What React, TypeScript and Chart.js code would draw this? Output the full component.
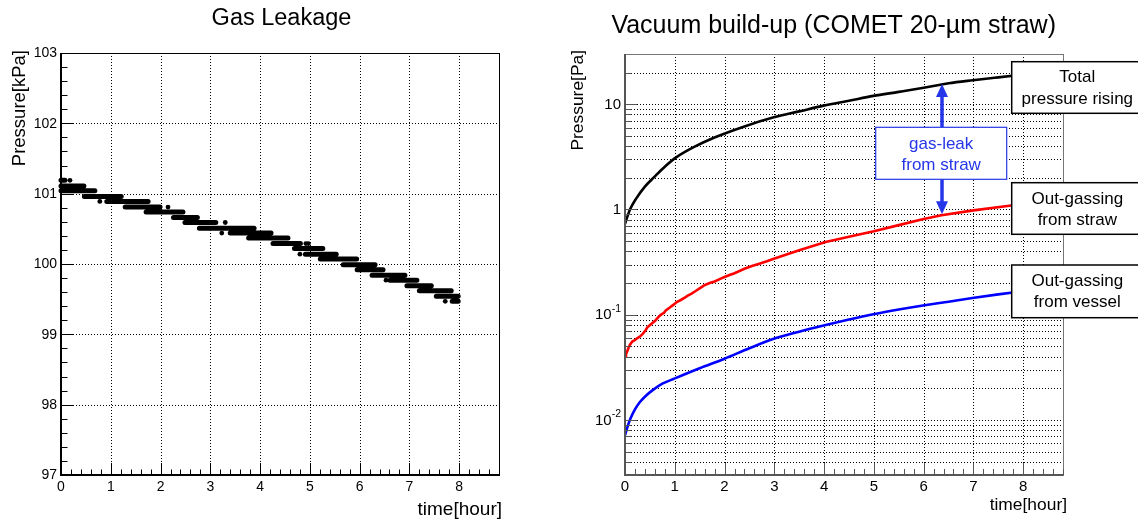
import React, { useEffect, useRef } from 'react';
import { Chart, registerables } from 'chart.js';
Chart.register(...registerables);

const FONT = '"Liberation Sans", Arial, Helvetica, sans-serif';

// ---------------- Left panel: Gas Leakage ----------------
const leakLevels = [101.19, 101.11, 101.04, 100.96, 100.89, 100.81, 100.74, 100.66, 100.59, 100.51, 100.44, 100.37, 100.29, 100.22, 100.14, 100.07, 99.99, 99.92, 99.84, 99.77, 99.69, 99.62, 99.54, 99.47];
const leakStart = [0.0, 0.0, 0.0, 0.47, 0.92, 1.29, 1.71, 2.26, 2.49, 2.78, 3.40, 3.77, 4.26, 4.69, 4.91, 5.21, 5.67, 5.95, 6.25, 6.61, 6.95, 7.20, 7.54, 7.86];
const leakEnd = [0.08, 0.46, 0.68, 1.21, 1.75, 1.99, 2.45, 2.74, 3.11, 3.88, 4.22, 4.56, 4.81, 5.26, 5.53, 5.94, 6.31, 6.47, 6.91, 7.15, 7.44, 7.84, 7.98, 7.98];
const leakDotT = [0.18, 0.78, 2.15, 3.30, 3.23, 4.92, 4.97, 4.80, 7.72, 6.53];
const leakDotP = [101.19, 100.89, 100.81, 100.59, 100.44, 100.29, 100.29, 100.14, 99.47, 99.77];
const leakXLabels = [0, 1, 2, 3, 4, 5, 6, 7, 8];
const leakYLabels = [97, 98, 99, 100, 101, 102, 103];

// ---------------- Right panel: Vacuum build-up ----------------
const totalT = [0, 0.05, 0.1, 0.22, 0.4, 0.59, 0.8, 1.035, 1.4, 1.81, 2.4, 2.99, 3.5, 3.99, 4.5, 4.99, 5.5, 6.03, 6.5, 6.99, 7.5, 8.0];
const totalP = [0.73, 0.86, 1.0, 1.26, 1.65, 2.04, 2.55, 3.14, 3.95, 4.85, 6.15, 7.5, 8.55, 9.7, 10.8, 12.0, 13.1, 14.4, 15.8, 16.9, 18.0, 19.1];
const strawT = [0, 0.02, 0.06, 0.1, 0.15, 0.19, 0.25, 0.3, 0.36, 0.42, 0.45, 0.52, 0.6, 0.67, 0.72, 0.78, 0.82, 0.9, 0.97, 1.04, 1.12, 1.2, 1.26, 1.33, 1.42, 1.5, 1.59, 1.7, 1.8, 1.9, 2.0, 2.1, 2.2, 2.3, 2.4, 2.55, 2.7, 2.85, 2.99, 3.5, 4.03, 4.5, 5.0, 5.5, 6.0, 6.36, 7.0, 7.76, 8.0];
const strawP = [0.040, 0.042, 0.047, 0.052, 0.056, 0.057, 0.060, 0.062, 0.066, 0.072, 0.076, 0.081, 0.087, 0.095, 0.100, 0.104, 0.110, 0.117, 0.124, 0.132, 0.138, 0.145, 0.152, 0.158, 0.168, 0.178, 0.190, 0.200, 0.207, 0.218, 0.228, 0.238, 0.248, 0.260, 0.273, 0.290, 0.305, 0.322, 0.340, 0.410, 0.490, 0.550, 0.620, 0.710, 0.810, 0.880, 0.980, 1.090, 1.120];
const vesselT = [0, 0.05, 0.11, 0.2, 0.3, 0.42, 0.55, 0.75, 0.99, 1.5, 2.0, 2.5, 2.99, 3.5, 3.99, 4.5, 4.99, 5.5, 6.02, 6.5, 6.98, 7.5, 8.0];
const vesselP = [0.00714, 0.0086, 0.0103, 0.0126, 0.0148, 0.017, 0.0191, 0.0221, 0.0247, 0.031, 0.0382, 0.048, 0.059, 0.069, 0.079, 0.09, 0.101, 0.112, 0.123, 0.133, 0.144, 0.156, 0.167];
const vacXLabels = [0, 1, 2, 3, 4, 5, 6, 7, 8];
const vacDecades = [0.001, 0.01, 0.1, 1, 10];
const vacYLabelValues = [0.01, 0.1, 1, 10];
const vacYLabelBase = ['10', '10', '1', '10'];
const vacYLabelSup = ['-2', '-1', '', ''];

function hLine(ctx: CanvasRenderingContext2D, x1: number, x2: number, y: number) {
  ctx.beginPath(); ctx.moveTo(x1, y); ctx.lineTo(x2, y); ctx.stroke();
}
function vLine(ctx: CanvasRenderingContext2D, x: number, y1: number, y2: number) {
  ctx.beginPath(); ctx.moveTo(x, y1); ctx.lineTo(x, y2); ctx.stroke();
}
const crisp = (v: number) => Math.round(v) + 0.5;

function minorSteps(from: number, to: number, step: number) {
  const out: number[] = [];
  const n = Math.round((to - from) / step);
  for (let i = 0; i <= n; i++) out.push(+(from + i * step).toFixed(4));
  return out;
}

function logGridValues(min: number, max: number) {
  const out: number[] = [];
  for (const d of vacDecades) for (let m = 1; m <= 9; m++) {
    const v = +(d * m).toPrecision(3);
    if (v > min * 1.0001 && v < max * 0.9999) out.push(v);
  }
  return out;
}

const leftDecor = {
  id: 'leftDecor',
  beforeDatasetsDraw(chart: any) {
    const { ctx, chartArea: a, scales: { x, y } } = chart;
    ctx.save();
    ctx.strokeStyle = '#000'; ctx.lineWidth = 1; ctx.setLineDash([1, 2]);
    for (const v of leakXLabels) if (v > 0) vLine(ctx, crisp(x.getPixelForValue(v)), a.top, a.bottom);
    for (const v of leakYLabels) if (v > 97 && v < 103) hLine(ctx, a.left, a.right, crisp(y.getPixelForValue(v)));
    ctx.restore();
  },
  afterDatasetsDraw(chart: any) {
    const { ctx, chartArea: a, scales: { x, y } } = chart;
    ctx.save();
    ctx.setLineDash([]);
    ctx.strokeStyle = '#000'; ctx.lineWidth = 1;
    ctx.strokeRect(crisp(a.left), crisp(a.top), Math.round(a.right - a.left), Math.round(a.bottom - a.top));
    ctx.lineWidth = 2;
    vLine(ctx, Math.round(a.left), a.top, a.bottom + 1);
    hLine(ctx, a.left - 1, a.right, Math.round(a.bottom));
    ctx.lineWidth = 1;
    for (const v of minorSteps(0, 8.8, 0.2)) {
      const px = crisp(x.getPixelForValue(v));
      const major = Math.abs(v - Math.round(v)) < 1e-6;
      vLine(ctx, px, a.bottom, a.bottom - (major ? 12 : 5.5));
    }
    for (const v of minorSteps(97, 103, 0.2)) {
      const py = crisp(y.getPixelForValue(v));
      const major = Math.abs(v - Math.round(v)) < 1e-6;
      hLine(ctx, a.left, a.left + (major ? 12 : 6.5), py);
    }
    ctx.fillStyle = '#000';
    ctx.font = `14px ${FONT}`;
    ctx.textAlign = 'center'; ctx.textBaseline = 'middle';
    for (const v of leakXLabels) ctx.fillText(String(v), x.getPixelForValue(v), 487);
    ctx.textAlign = 'right';
    for (const v of leakYLabels) ctx.fillText(String(v), a.left - 4, y.getPixelForValue(v) + 0.5);
    ctx.font = `19px ${FONT}`;
    ctx.textAlign = 'right'; ctx.textBaseline = 'middle';
    ctx.fillText('time[hour]', 502, 510);
    ctx.save();
    ctx.translate(20, 50); ctx.rotate(-Math.PI / 2);
    ctx.font = `18.5px ${FONT}`;
    ctx.textAlign = 'right'; ctx.textBaseline = 'middle';
    ctx.fillText('Pressure[kPa]', 0, 0);
    ctx.restore();
    ctx.font = `23.5px ${FONT}`;
    ctx.textAlign = 'center'; ctx.textBaseline = 'alphabetic';
    ctx.fillText('Gas Leakage', 281.5, 25);
    ctx.restore();
  },
};

const BLUE = '#2536e8';
const RIGHT_OFF = 563;

function textBox(ctx: CanvasRenderingContext2D, x1: number, y1: number, x2: number, y2: number, lines: string[], cx: number, lineYs: number[], color: string, lw: number) {
  ctx.fillStyle = '#fff';
  ctx.fillRect(x1, y1, x2 - x1, y2 - y1);
  ctx.strokeStyle = color; ctx.lineWidth = lw;
  ctx.strokeRect(x1, y1, x2 - x1, y2 - y1);
  ctx.fillStyle = color;
  ctx.font = `17px ${FONT}`;
  ctx.textAlign = 'center'; ctx.textBaseline = 'middle';
  lines.forEach((s, i) => ctx.fillText(s, cx, lineYs[i]));
}

const rightDecor = {
  id: 'rightDecor',
  beforeDatasetsDraw(chart: any) {
    const { ctx, chartArea: a, scales: { x, y } } = chart;
    ctx.save();
    ctx.strokeStyle = '#000'; ctx.lineWidth = 1; ctx.setLineDash([1, 2]);
    for (const v of vacXLabels) if (v > 0) vLine(ctx, crisp(x.getPixelForValue(v)), a.top, a.bottom);
    for (const v of logGridValues(0.003, 30)) hLine(ctx, a.left, a.right, crisp(y.getPixelForValue(v)));
    ctx.restore();
  },
  afterDatasetsDraw(chart: any) {
    const { ctx, chartArea: a, scales: { x, y } } = chart;
    ctx.save();
    ctx.setLineDash([]);
    ctx.strokeStyle = '#777'; ctx.lineWidth = 1;
    ctx.strokeRect(crisp(a.left), crisp(a.top), Math.round(a.right - a.left), Math.round(a.bottom - a.top));
    ctx.strokeStyle = '#555'; ctx.lineWidth = 2;
    vLine(ctx, Math.round(a.left), a.top, a.bottom + 1);
    hLine(ctx, a.left - 1, a.right, Math.round(a.bottom));
    ctx.lineWidth = 1;
    for (const v of minorSteps(0, 8.8, 0.2)) {
      const px = crisp(x.getPixelForValue(v));
      const major = Math.abs(v - Math.round(v)) < 1e-6;
      vLine(ctx, px, a.bottom, a.bottom - (major ? 12 : 6));
    }
    for (const v of logGridValues(0.003, 30)) {
      const py = crisp(y.getPixelForValue(v));
      const major = vacDecades.some((d) => Math.abs(d - v) / v < 1e-6);
      hLine(ctx, a.left, a.left + (major ? 12 : 6.5), py);
    }
    ctx.fillStyle = '#000';
    ctx.font = `15px ${FONT}`;
    ctx.textAlign = 'center'; ctx.textBaseline = 'middle';
    for (const v of vacXLabels) ctx.fillText(String(v), x.getPixelForValue(v), 487);
    vacYLabelValues.forEach((v, i) => {
      const py = y.getPixelForValue(v);
      const right = a.left - 4;
      let supW = 0;
      if (vacYLabelSup[i]) {
        ctx.font = `10.5px ${FONT}`;
        supW = ctx.measureText(vacYLabelSup[i]).width;
        ctx.textAlign = 'left';
        ctx.fillText(vacYLabelSup[i], right - supW, py - 6);
      }
      ctx.font = `15px ${FONT}`;
      ctx.textAlign = 'right';
      ctx.fillText(vacYLabelBase[i], right - supW, py + 0.5);
    });
    ctx.font = `17.4px ${FONT}`;
    ctx.textAlign = 'right'; ctx.textBaseline = 'middle';
    ctx.fillText('time[hour]', 1067 - RIGHT_OFF, 505);
    ctx.save();
    ctx.translate(578.5 - RIGHT_OFF, 50); ctx.rotate(-Math.PI / 2);
    ctx.textAlign = 'right'; ctx.textBaseline = 'middle';
    ctx.fillText('Pressure[Pa]', 0, 0);
    ctx.restore();
    ctx.font = `25px ${FONT}`;
    ctx.textAlign = 'center'; ctx.textBaseline = 'alphabetic';
    ctx.fillText('Vacuum build-up (COMET 20-\u00b5m straw)', 833.7 - RIGHT_OFF, 33);

    const ax = Math.round(x.getPixelForValue(6.37));
    const topTip = y.getPixelForValue(15.6);
    const botTip = y.getPixelForValue(0.9);
    const boxTop = 127.3, boxBot = 179.3;
    ctx.strokeStyle = BLUE; ctx.fillStyle = BLUE; ctx.lineWidth = 3.5;
    vLine(ctx, ax, boxTop, topTip + 10);
    vLine(ctx, ax, boxBot, botTip - 10);
    ctx.beginPath(); ctx.moveTo(ax, topTip); ctx.lineTo(ax - 6, topTip + 13); ctx.lineTo(ax + 6, topTip + 13); ctx.closePath(); ctx.fill();
    ctx.beginPath(); ctx.moveTo(ax, botTip); ctx.lineTo(ax - 6, botTip - 13); ctx.lineTo(ax + 6, botTip - 13); ctx.closePath(); ctx.fill();

    textBox(ctx, 875.7 - RIGHT_OFF, boxTop, 1006.7 - RIGHT_OFF, boxBot, ['gas-leak', 'from straw'], 941.2 - RIGHT_OFF, [144.3, 165.5], BLUE, 1.2);
    const bx1 = 1011.7 - RIGHT_OFF, bx2 = 1150 - RIGHT_OFF, tcx = 1077.3 - RIGHT_OFF;
    textBox(ctx, bx1, 61.7, bx2, 113.3, ['Total', 'pressure rising'], tcx, [77.3, 99], '#000', 1.5);
    textBox(ctx, bx1, 182.7, bx2, 234.3, ['Out-gassing', 'from straw'], tcx, [199.3, 220.5], '#000', 1.5);
    textBox(ctx, bx1, 265, bx2, 317.7, ['Out-gassing', 'from vessel'], tcx, [281.7, 302.8], '#000', 1.5);
    ctx.restore();
  },
};

function hiddenScale(extra: any) {
  return {
    display: true,
    ticks: { display: false },
    grid: { display: false, drawTicks: false },
    border: { display: false },
    ...extra,
  };
}

export default function App() {
  const leftRef = useRef<HTMLCanvasElement>(null);
  const rightRef = useRef<HTMLCanvasElement>(null);

  useEffect(() => {
    const bandPoints: any[] = [];
    leakLevels.forEach((p, i) => {
      bandPoints.push({ x: leakStart[i], y: p }, { x: leakEnd[i], y: p }, { x: leakEnd[i], y: null });
    });
    const dotPoints = leakDotT.map((t, i) => ({ x: t, y: leakDotP[i] }));

    const common = {
      animation: false,
      responsive: false,
      devicePixelRatio: 1,
      events: [],
      plugins: { legend: { display: false }, tooltip: { enabled: false }, title: { display: false } },
    };

    const c1 = new Chart(leftRef.current as HTMLCanvasElement, {
      type: 'line',
      data: {
        datasets: [
          { data: bandPoints, borderColor: '#000', borderWidth: 5, borderCapStyle: 'round', pointRadius: 0, spanGaps: false, clip: false } as any,
          { data: dotPoints, showLine: false, pointRadius: 2.4, pointBackgroundColor: '#000', pointBorderWidth: 0, clip: false } as any,
        ],
      },
      options: {
        ...common,
        layout: { padding: { left: 61, right: 64, top: 53, bottom: 48 } },
        scales: {
          x: hiddenScale({ type: 'linear', min: 0, max: 8.8 }),
          y: hiddenScale({ type: 'linear', min: 97, max: 103 }),
        },
      } as any,
      plugins: [leftDecor],
    });

    const mk = (ts: number[], ps: number[]) => ts.map((t, i) => ({ x: t, y: ps[i] }));
    const c2 = new Chart(rightRef.current as HTMLCanvasElement, {
      type: 'line',
      data: {
        datasets: [
          { data: mk(totalT, totalP), borderColor: '#000', borderWidth: 2.6, pointRadius: 0, cubicInterpolationMode: 'monotone' } as any,
          { data: mk(strawT, strawP), borderColor: '#ff0000', borderWidth: 2.6, pointRadius: 0, tension: 0 } as any,
          { data: mk(vesselT, vesselP), borderColor: '#0000ff', borderWidth: 2.6, pointRadius: 0, cubicInterpolationMode: 'monotone' } as any,
        ],
      },
      options: {
        ...common,
        layout: { padding: { left: 62, right: 75, top: 54, bottom: 48 } },
        scales: {
          x: hiddenScale({ type: 'linear', min: 0, max: 8.8 }),
          y: hiddenScale({ type: 'logarithmic', min: 0.003, max: 30 }),
        },
      } as any,
      plugins: [rightDecor],
    });

    return () => { c1.destroy(); c2.destroy(); };
  }, []);

  return (
    <div style={{ position: 'fixed', left: 0, top: 0, width: 1138, height: 523, background: '#fff', overflow: 'hidden' }}>
      <canvas ref={leftRef} width={563} height={523} style={{ position: 'absolute', left: 0, top: 0, width: 563, height: 523, display: 'block' }} />
      <canvas ref={rightRef} width={575} height={523} style={{ position: 'absolute', left: RIGHT_OFF, top: 0, width: 575, height: 523, display: 'block' }} />
    </div>
  );
}
